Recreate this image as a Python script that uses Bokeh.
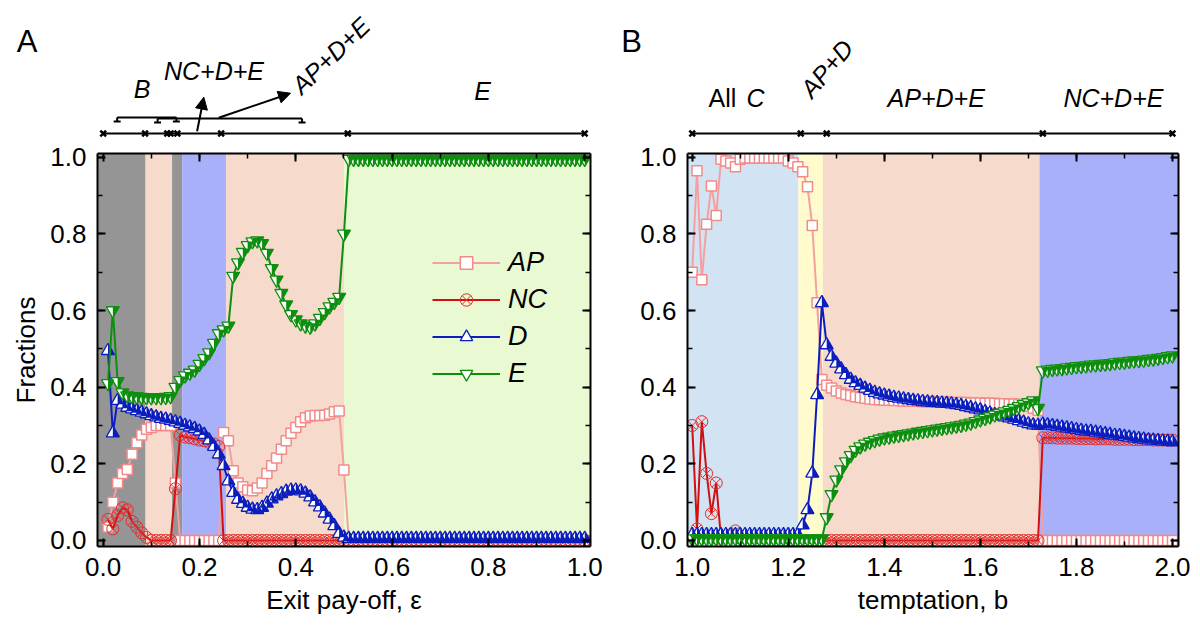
import numpy as np
from bokeh.plotting import figure
from bokeh.layouts import row, column
from bokeh.models import (Range1d, LinearAxis, SingleIntervalTicker, PrintfTickFormatter,
                          BoxAnnotation, Legend, LegendItem, Arrow, NormalHead)
from bokeh.core.properties import value
from bokeh.embed import file_html
from bokeh.resources import INLINE

# ---------------- data : panel A (exit pay-off) ----------------
eps = np.round(np.arange(1, 101) * 0.01, 2)

AP_A = [0.035, 0.10, 0.15, 0.175, 0.185, 0.225, 0.255, 0.275, 0.29, 0.295,
        0.30, 0.30, 0.30, 0.30, 0.15, 0.0, 0.0, 0.0, 0.0, 0.0,
        0.0, 0.0, 0.0, 0.0, 0.282, 0.26, 0.182, 0.15, 0.14, 0.132,
        0.13, 0.137, 0.15, 0.175, 0.195, 0.215, 0.238, 0.26, 0.28, 0.295,
        0.31, 0.32, 0.325, 0.326, 0.326, 0.327, 0.33, 0.336, 0.338, 0.184] + [0.0] * 50
NC_A = [0.055, 0.03, 0.065, 0.085, 0.08, 0.05, 0.035, 0.02, 0.008, 0.0,
        0.0, 0.0, 0.0, 0.0, 0.135, 0.275, 0.27, 0.268, 0.265, 0.262,
        0.26, 0.256, 0.252, 0.245] + [0.0] * 76
D_A = [0.495, 0.28, 0.365, 0.355, 0.347, 0.343, 0.338, 0.334, 0.33, 0.325,
       0.322, 0.318, 0.316, 0.313, 0.309, 0.305, 0.30, 0.296, 0.292, 0.285,
       0.276, 0.262, 0.245, 0.225, 0.195, 0.155, 0.125, 0.107, 0.096, 0.086,
       0.081, 0.08, 0.086, 0.097, 0.108, 0.116, 0.122, 0.128, 0.131, 0.131,
       0.129, 0.123, 0.113, 0.10, 0.087, 0.071, 0.055, 0.038, 0.018, 0.008] + [0.005] * 50
E_A = [0.41, 0.60, 0.415, 0.386, 0.378, 0.376, 0.375, 0.374, 0.373, 0.373,
       0.373, 0.373, 0.374, 0.376, 0.40, 0.418, 0.43, 0.437, 0.445, 0.46,
       0.475, 0.49, 0.515, 0.54, 0.55, 0.56, 0.69, 0.725, 0.752, 0.77,
       0.78, 0.782, 0.775, 0.75, 0.71, 0.68, 0.645, 0.615, 0.59, 0.576,
       0.566, 0.56, 0.557, 0.566, 0.58, 0.595, 0.61, 0.622, 0.635, 0.80] + [0.995] * 50

# ---------------- data : panel B (temptation) ----------------
bt = np.round(1.0 + np.arange(0, 101) * 0.01, 2)

AP_B = [0.70, 0.965, 0.68, 0.825, 0.925, 0.848, 0.995, 0.99, 0.985, 0.975,
        0.995, 0.998, 0.998, 0.998, 0.998, 0.998, 0.998, 0.998, 0.998, 0.998,
        0.99, 0.985, 0.975, 0.962, 0.923, 0.822, 0.62, 0.42, 0.405, 0.398,
        0.39, 0.385, 0.381, 0.378, 0.375, 0.373, 0.371, 0.369, 0.368, 0.367,
        0.366, 0.366, 0.365, 0.365, 0.364, 0.364, 0.363, 0.363, 0.362, 0.362,
        0.362, 0.361, 0.361, 0.361, 0.36, 0.36, 0.36, 0.36, 0.359, 0.359,
        0.359, 0.358, 0.358, 0.358, 0.357, 0.357, 0.356, 0.356, 0.355, 0.355,
        0.35, 0.345, 0.34] + [0.0] * 28
NC_B = [0.30, 0.03, 0.31, 0.175, 0.07, 0.15, 0.005, 0.01, 0.015, 0.025] + [0.0] * 63 + \
       [0.268, 0.268, 0.268, 0.267, 0.267, 0.267, 0.267, 0.266, 0.266, 0.266,
        0.266, 0.265, 0.265, 0.265, 0.265, 0.264, 0.264, 0.264, 0.264, 0.263,
        0.263, 0.263, 0.263, 0.262, 0.262, 0.262, 0.262, 0.262]
D_B = [0.015] * 23 + \
      [0.04, 0.08, 0.175, 0.38, 0.62, 0.51, 0.48, 0.462, 0.447, 0.432,
       0.42, 0.411, 0.404, 0.397, 0.391, 0.386, 0.382, 0.379, 0.376, 0.373,
       0.371, 0.369, 0.367, 0.365, 0.364, 0.362, 0.361, 0.36, 0.359, 0.358,
       0.357, 0.356, 0.354, 0.352, 0.349, 0.346, 0.343, 0.34, 0.336, 0.332,
       0.328, 0.325, 0.322, 0.319, 0.316, 0.312, 0.308, 0.304, 0.301, 0.30,
       0.303, 0.301, 0.299, 0.297, 0.295, 0.293, 0.291, 0.289, 0.287, 0.285,
       0.284, 0.282, 0.280, 0.278, 0.276, 0.274, 0.273, 0.271, 0.269, 0.267,
       0.265, 0.264, 0.262, 0.261, 0.260, 0.259, 0.258, 0.257]
E_B = [0.005] * 28 + \
      [0.06, 0.12, 0.158, 0.185, 0.206, 0.222, 0.236, 0.245, 0.252, 0.257,
       0.261, 0.265, 0.268, 0.27, 0.273, 0.275, 0.277, 0.279, 0.281, 0.283,
       0.285, 0.287, 0.289, 0.291, 0.293, 0.295, 0.297, 0.299, 0.301, 0.304,
       0.307, 0.311, 0.315, 0.319, 0.323, 0.328, 0.332, 0.336, 0.34, 0.345,
       0.35, 0.355, 0.36, 0.365, 0.345,
       0.443, 0.445, 0.447, 0.448, 0.449, 0.451, 0.452, 0.454, 0.455, 0.456,
       0.458, 0.459, 0.46, 0.461, 0.462, 0.464, 0.465, 0.466, 0.468, 0.469,
       0.47, 0.471, 0.473, 0.474, 0.476, 0.478, 0.48, 0.482]

# phase boundaries (shading) and phase-line markers
SHADE_A = [0.088, 0.143, 0.164, 0.255, 0.50]
SHADE_A_COLORS = ["#959595", "#f6dacb", "#959595", "#a8b0fa", "#f6dacb", "#e9f9d2"]
SHADE_B = [1.221, 1.272, 1.723]
SHADE_B_COLORS = ["#d2e4f3", "#fffbcc", "#f6dacb", "#a8b0fa"]
PHASE_A = [0.0, 0.087, 0.133, 0.140, 0.154, 0.245, 0.508, 1.0]
PHASE_B = [1.0, 1.226, 1.28, 1.73, 2.0]
BRACKETS_A = [(0.029, 0.152), (0.113, 0.413)]

FONT = "Liberation Sans"
AP_LINE, AP_EDGE = "#f5a0a0", "#f28a8a"
NC_LINE, NC_EDGE = "#d01010", "#e03030"
D_COL = "#0b1ebd"
E_COL = "#0e8e0e"

FH = 393           # frame height of main panels
TOP_H = 139        # height of annotation strip
OFF = 8            # annotation y values are measured from 8 px below the strip top
YR = (-0.0157, 1.0097)


def style_axis(ax, labels=True):
    ax.axis_line_width = 2
    ax.major_tick_line_width = 2
    ax.minor_tick_line_width = 1.5
    ax.major_tick_in = 8
    ax.major_tick_out = 0
    ax.minor_tick_in = 5
    ax.minor_tick_out = 0
    if labels:
        ax.major_label_text_font = FONT
        ax.major_label_text_font_size = "26px"
        ax.major_label_text_color = "black"
        ax.major_label_standoff = 11
    else:
        ax.major_label_text_font_size = "0px"
        ax.major_label_text_color = None
        ax.major_label_standoff = 0


def make_main(xr, bl, br, fw, xlabel, ylabel):
    p = figure(frame_width=fw, frame_height=FH, x_range=Range1d(*xr), y_range=Range1d(*YR),
               output_backend="svg", toolbar_location=None,
               min_border_left=bl, min_border_right=br, min_border_top=14, min_border_bottom=90,
               outline_line_color=None, background_fill_color="white")
    p.grid.visible = False
    tick = SingleIntervalTicker(interval=0.2, num_minor_ticks=2)
    fmt = PrintfTickFormatter(format="%.1f")
    p.xaxis.ticker = tick
    p.yaxis.ticker = tick
    p.xaxis.formatter = fmt
    p.yaxis.formatter = fmt
    for ax in p.xaxis + p.yaxis:
        style_axis(ax)
    p.xaxis.axis_label = xlabel
    p.xaxis.axis_label_text_font = FONT
    p.xaxis.axis_label_text_font_size = "26px"
    p.xaxis.axis_label_text_font_style = "normal"
    p.xaxis.axis_label_text_color = "black"
    p.xaxis.axis_label_standoff = 6
    if ylabel:
        p.yaxis.axis_label = ylabel
        p.yaxis.axis_label_text_font = FONT
        p.yaxis.axis_label_text_font_size = "26px"
        p.yaxis.axis_label_text_font_style = "normal"
        p.yaxis.axis_label_text_color = "black"
        p.yaxis.axis_label_standoff = 6
    top = LinearAxis(ticker=SingleIntervalTicker(interval=0.2, num_minor_ticks=2))
    right = LinearAxis(ticker=SingleIntervalTicker(interval=0.2, num_minor_ticks=2))
    style_axis(top, labels=False)
    style_axis(right, labels=False)
    p.add_layout(top, "above")
    p.add_layout(right, "right")
    return p


def shade(p, bounds, colors):
    edges = [p.x_range.start] + list(bounds) + [p.x_range.end]
    for i, c in enumerate(colors):
        p.add_layout(BoxAnnotation(left=edges[i], right=edges[i + 1], fill_color=c, fill_alpha=1.0,
                                   line_color=None, level="underlay"))


def half_tri(xs, ys, p, fw, size, up=True):
    kx = (p.x_range.end - p.x_range.start) / fw
    ky = (p.y_range.end - p.y_range.start) / FH
    r = size / 2.0
    h = r * np.sqrt(3)
    px, py = [], []
    for x, y in zip(xs, ys):
        if up:
            px.append([x, x, x + r * kx])
            py.append([y + 2 * h / 3 * ky, y - h / 3 * ky, y - h / 3 * ky])
        else:
            px.append([x, x + r * kx, x])
            py.append([y + h / 3 * ky, y + h / 3 * ky, y - 2 * h / 3 * ky])
    return px, py


def draw_series(p, fw, x, ap, nc, d, e):
    out = {}
    l = p.line(x, ap, line_color=AP_LINE, line_width=2)
    s = p.scatter(x, ap, marker="square", size=10, fill_color="white", line_color=AP_EDGE, line_width=1.5)
    out["AP"] = [l, s]
    l = p.line(x, nc, line_color=NC_LINE, line_width=2)
    s = p.scatter(x, nc, marker="circle_x", size=12, fill_color=None, line_color=NC_EDGE, line_width=1)
    out["NC"] = [l, s]
    l = p.line(x, d, line_color=D_COL, line_width=2)
    s = p.scatter(x, d, marker="triangle", size=13, fill_color="white", line_color=D_COL, line_width=1.3)
    hx, hy = half_tri(x, d, p, fw, 13, up=True)
    p.patches(hx, hy, fill_color=D_COL, line_color=None)
    out["D"] = [l, s]
    l = p.line(x, e, line_color=E_COL, line_width=2)
    s = p.scatter(x, e, marker="inverted_triangle", size=13, fill_color="white", line_color=E_COL, line_width=1.3)
    hx, hy = half_tri(x, e, p, fw, 13, up=False)
    p.patches(hx, hy, fill_color=E_COL, line_color=None)
    out["E"] = [l, s]
    return out


def make_top(pmain, bl, br, fw):
    # annotation strip spanning the full column width, same x mapping as the panel below
    kx = (pmain.x_range.end - pmain.x_range.start) / fw
    t = figure(frame_width=bl + fw + br, frame_height=TOP_H,
               x_range=Range1d(pmain.x_range.start - bl * kx, pmain.x_range.end + br * kx),
               y_range=Range1d(TOP_H - OFF, -OFF),
               x_axis_location=None, y_axis_location=None, min_border=0,
               output_backend="svg", toolbar_location=None,
               outline_line_color=None, background_fill_color="white")
    t.grid.visible = False
    return t


def txt(t, x, y, s, size="25px", style="italic", align="center", angle=0.0):
    t.text(x=[x], y=[y], text=[s], text_font=value(FONT), text_font_size=size,
           text_font_style=style, text_align=align, text_baseline="middle",
           text_color="black", angle=angle)


def phase_line(t, pts, y):
    t.line([pts[0], pts[-1]], [y, y], line_color="black", line_width=2)
    t.scatter(pts, [y] * len(pts), marker="x", size=8, line_color="black", line_width=2.5)


# ---------------- panel A ----------------
BL_A, BR_A, FW_A = 97, 18, 493
pA = make_main((-0.0118, 1.012), BL_A, BR_A, FW_A, "Exit pay-off, \u03b5", "Fractions")
shade(pA, SHADE_A, SHADE_A_COLORS)
rA = draw_series(pA, FW_A, eps, AP_A, NC_A, D_A, E_A)
legend = Legend(items=[LegendItem(label=k, renderers=rA[k]) for k in ["AP", "NC", "D", "E"]],
                location=(335, 157), glyph_width=68, glyph_height=31, label_height=31,
                spacing=6, padding=0, margin=0, label_standoff=8,
                background_fill_alpha=0, border_line_alpha=0, label_text_color="black",
                label_text_font=FONT, label_text_font_style="italic", label_text_font_size="27px")
pA.add_layout(legend)

tA = make_top(pA, BL_A, BR_A, FW_A)
txt(tA, -0.158, 33, "A", size="31px", style="normal")
phase_line(tA, PHASE_A, 125)
for (lo, hi), yb in zip(BRACKETS_A, [109, 110]):
    tA.line([lo, hi], [yb, yb], line_color="black", line_width=2)
    tA.segment(x0=[lo, hi], y0=[yb, yb], x1=[lo, hi], y1=[yb + 4, yb + 4], line_color="black", line_width=2)
    tA.scatter([lo, hi], [yb + 4, yb + 4], marker="dash", size=7, line_color="black", line_width=2)
txt(tA, 0.081, 80, "B")
txt(tA, 0.23, 62, "NC+D+E")
txt(tA, 0.4725, 47, "AP+D+E", angle=np.radians(44))
txt(tA, 0.788, 82, "E")
tA.add_layout(Arrow(end=NormalHead(size=12, fill_color="black", line_color="black"),
                    x_start=0.195, y_start=122.7, x_end=0.209, y_end=88.7, line_width=2))
tA.add_layout(Arrow(end=NormalHead(size=12, fill_color="black", line_color="black"),
                    x_start=0.240, y_start=109.3, x_end=0.389, y_end=84.7, line_width=2))

# ---------------- panel B ----------------
BL_B, BR_B, FW_B = 79, 14, 491
pB = make_main((0.9902, 2.0125), BL_B, BR_B, FW_B, "temptation, b", None)
shade(pB, SHADE_B, SHADE_B_COLORS)
draw_series(pB, FW_B, bt, AP_B, NC_B, D_B, E_B)

tB = make_top(pB, BL_B, BR_B, FW_B)
txt(tB, 0.874, 33, "B", size="31px", style="normal")
phase_line(tB, PHASE_B, 125)
txt(tB, 1.034, 89, "All", style="normal", align="left")
txt(tB, 1.113, 89, "C", align="left")
txt(tB, 1.28, 60, "AP+D", angle=np.radians(50))
txt(tB, 1.508, 89, "AP+D+E")
txt(tB, 1.877, 89, "NC+D+E")

layout = column(row(tA, tB), row(pA, pB))
open("out.html", "w").write(file_html(layout, INLINE))
